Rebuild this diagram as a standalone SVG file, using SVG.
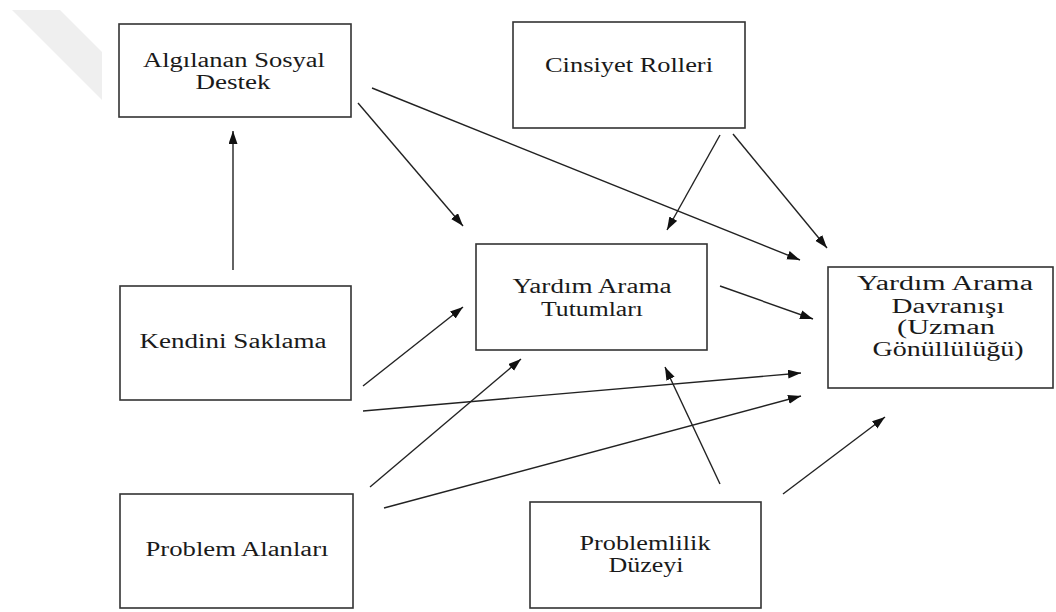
<svg xmlns="http://www.w3.org/2000/svg" width="1056" height="612" viewBox="0 0 1056 612">
<style>
.box{fill:#fff;stroke:#333;stroke-width:1.6}
.t{font-family:'Liberation Serif','DejaVu Serif',serif;font-size:20px;fill:#1a1a1a;text-anchor:middle}
.c{stroke:#222;stroke-width:1.4;fill:none;marker-end:url(#ah)}
</style>
<defs>
<marker id="ah" markerUnits="userSpaceOnUse" markerWidth="14" markerHeight="10" refX="13" refY="4.5" orient="auto">
<path d="M0,0 L13,4.5 L0,9 z" fill="#111"/>
</marker>
</defs>
<rect width="1056" height="612" fill="#fff"/>
<polygon points="12,10 60,10 102,52 102,100" fill="#efefef"/>
<g id="connectors">
<line class="c" x1="233" y1="270" x2="233" y2="131"/>
<line class="c" x1="358" y1="103" x2="463" y2="226"/>
<line class="c" x1="372" y1="88" x2="800" y2="260"/>
<line class="c" x1="720" y1="135" x2="667" y2="230"/>
<line class="c" x1="733" y1="134" x2="827" y2="248"/>
<line class="c" x1="720" y1="286" x2="813" y2="319"/>
<line class="c" x1="363" y1="386" x2="463" y2="307"/>
<line class="c" x1="363" y1="411" x2="801" y2="373"/>
<line class="c" x1="370" y1="487" x2="521" y2="359"/>
<line class="c" x1="384" y1="508" x2="801" y2="396"/>
<line class="c" x1="720" y1="484" x2="665" y2="367"/>
<line class="c" x1="783" y1="494" x2="885" y2="417"/>
</g>
<g id="algilanan">
<rect class="box" x="119" y="24" width="232" height="93"/>
<text class="t" x="234" y="67" textLength="182" lengthAdjust="spacingAndGlyphs">Algılanan Sosyal</text>
<text class="t" x="233" y="89" textLength="75" lengthAdjust="spacingAndGlyphs">Destek</text>
</g>
<g id="cinsiyet">
<rect class="box" x="513" y="22" width="232" height="106"/>
<text class="t" x="629" y="72" textLength="168" lengthAdjust="spacingAndGlyphs">Cinsiyet Rolleri</text>
</g>
<g id="tutumlar">
<rect class="box" x="476" y="244" width="231" height="106"/>
<text class="t" x="592" y="293" textLength="159" lengthAdjust="spacingAndGlyphs">Yardım Arama</text>
<text class="t" x="592" y="316" textLength="102" lengthAdjust="spacingAndGlyphs">Tutumları</text>
</g>
<g id="davranis">
<rect class="box" x="828" y="267" width="225" height="121"/>
<text class="t" x="945" y="290" textLength="176" lengthAdjust="spacingAndGlyphs">Yardım Arama</text>
<text class="t" x="948" y="313" textLength="113" lengthAdjust="spacingAndGlyphs">Davranışı</text>
<text class="t" x="946" y="334" textLength="98" lengthAdjust="spacingAndGlyphs">(Uzman</text>
<text class="t" x="948" y="356" textLength="151" lengthAdjust="spacingAndGlyphs">Gönüllülüğü)</text>
</g>
<g id="kendini">
<rect class="box" x="120" y="286" width="231" height="114"/>
<text class="t" x="233" y="348" textLength="187" lengthAdjust="spacingAndGlyphs">Kendini Saklama</text>
</g>
<g id="problem-alanlari">
<rect class="box" x="120" y="494" width="233" height="114"/>
<text class="t" x="237" y="556" textLength="183" lengthAdjust="spacingAndGlyphs">Problem Alanları</text>
</g>
<g id="problemlilik">
<rect class="box" x="530" y="502" width="231" height="106"/>
<text class="t" x="645" y="550" textLength="131" lengthAdjust="spacingAndGlyphs">Problemlilik</text>
<text class="t" x="646" y="572" textLength="75" lengthAdjust="spacingAndGlyphs">Düzeyi</text>
</g>
</svg>
